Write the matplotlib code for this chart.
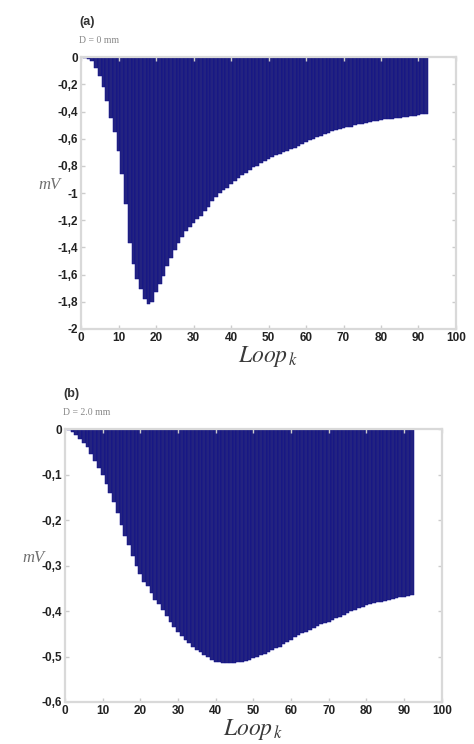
import matplotlib
matplotlib.use("Agg")
import matplotlib.pyplot as plt
import numpy as np

plt.rcParams['mathtext.fontset'] = 'stix'

# loop index and measured voltage (mV) for the two distances
loops = np.arange(1, 93)

mv_d0 = [-0.005, -0.015, -0.03, -0.08, -0.14, -0.22, -0.32, -0.45, -0.55, -0.69,
         -0.86, -1.08, -1.37, -1.52, -1.63, -1.71, -1.78, -1.82, -1.80, -1.73,
         -1.67, -1.61, -1.54, -1.48, -1.42, -1.37, -1.32, -1.28, -1.25, -1.22,
         -1.19, -1.17, -1.13, -1.10, -1.06, -1.03, -1.00, -0.98, -0.96, -0.935,
         -0.91, -0.89, -0.87, -0.85, -0.83, -0.81, -0.80, -0.78, -0.765, -0.75,
         -0.735, -0.72, -0.71, -0.70, -0.69, -0.675, -0.665, -0.65, -0.64, -0.625,
         -0.61, -0.60, -0.59, -0.58, -0.565, -0.555, -0.545, -0.535, -0.53, -0.52,
         -0.515, -0.51, -0.50, -0.495, -0.49, -0.485, -0.478, -0.472, -0.466, -0.46,
         -0.457, -0.454, -0.451, -0.448, -0.445, -0.442, -0.44, -0.435, -0.43, -0.425,
         -0.42, -0.415]

mv_d2 = [-0.002, -0.006, -0.012, -0.022, -0.03, -0.04, -0.055, -0.07, -0.085, -0.10,
         -0.12, -0.14, -0.16, -0.185, -0.21, -0.235, -0.255, -0.278, -0.30, -0.318,
         -0.335, -0.345, -0.36, -0.375, -0.385, -0.398, -0.41, -0.423, -0.435, -0.445,
         -0.455, -0.463, -0.47, -0.478, -0.485, -0.491, -0.497, -0.502, -0.507, -0.511,
         -0.513, -0.514, -0.515, -0.515, -0.514, -0.513, -0.511, -0.509, -0.507, -0.504,
         -0.501, -0.497, -0.494, -0.49, -0.486, -0.482, -0.478, -0.473, -0.468, -0.463,
         -0.458, -0.453, -0.449, -0.445, -0.441, -0.437, -0.433, -0.429, -0.426, -0.423,
         -0.42, -0.416, -0.412, -0.408, -0.404, -0.400, -0.397, -0.393, -0.390, -0.387,
         -0.385, -0.383, -0.381, -0.379, -0.377, -0.375, -0.373, -0.371, -0.369, -0.368,
         -0.366, -0.365]

xticks = list(range(0, 101, 10))
yticks_a = [0, -0.2, -0.4, -0.6, -0.8, -1, -1.2, -1.4, -1.6, -1.8, -2]
ylabels_a = ['0', '-0,2', '-0,4', '-0,6', '-0,8', '-1', '-1,2', '-1,4', '-1,6', '-1,8', '-2']
yticks_b = [0, -0.1, -0.2, -0.3, -0.4, -0.5, -0.6]
ylabels_b = ['0', '-0,1', '-0,2', '-0,3', '-0,4', '-0,5', '-0,6']

fig = plt.figure(figsize=(4.74, 7.44), dpi=100)
ax_a = fig.add_axes([0.171, 0.558, 0.791, 0.365])
ax_b = fig.add_axes([0.137, 0.0565, 0.795, 0.3665])

panels = [
    (ax_a, mv_d0, yticks_a, ylabels_a, '(a)', 'D = 0 mm'),
    (ax_b, mv_d2, yticks_b, ylabels_b, '(b)', 'D = 2.0 mm'),
]

for ax, vals, yt, yl, tag, dist in panels:
    ax.bar(loops, vals, width=1.0, color='#232380', edgecolor='#0c0c8c', linewidth=0.35)
    ax.set_xlim(0, 100)
    ax.set_ylim(yt[-1], 0)
    ax.set_xticks(xticks)
    ax.set_xticklabels([str(t) for t in xticks], fontsize=8.5, fontweight='bold',
                       family='Liberation Sans', color='#222222')
    ax.set_yticks(yt)
    ax.set_yticklabels(yl, fontsize=8.5, fontweight='bold',
                       family='Liberation Sans', color='#222222')
    ax.tick_params(direction='in', length=3, color='#cccccc', width=1,
                   top=True, right=True, pad=2)
    for s in ax.spines.values():
        s.set_color('#d9d9d9')
        s.set_linewidth(1.6)
    ax.set_xlabel(r'$Loop_{\,k}$', fontsize=17, color='#3a3a3a', labelpad=0)
    ax.set_ylabel('mV', fontsize=12, style='italic', family='Liberation Serif',
                  color='#707070', rotation=0, labelpad=6)
    ax.text(-0.005, 1.13, tag, transform=ax.transAxes, fontsize=9, fontweight='bold',
            family='Liberation Sans', color='#333333', va='center')
    ax.text(-0.005, 1.06, dist, transform=ax.transAxes, fontsize=7,
            family='Liberation Serif', color='#888888', va='center')

fig.savefig('out.png', dpi=100, facecolor='white')
